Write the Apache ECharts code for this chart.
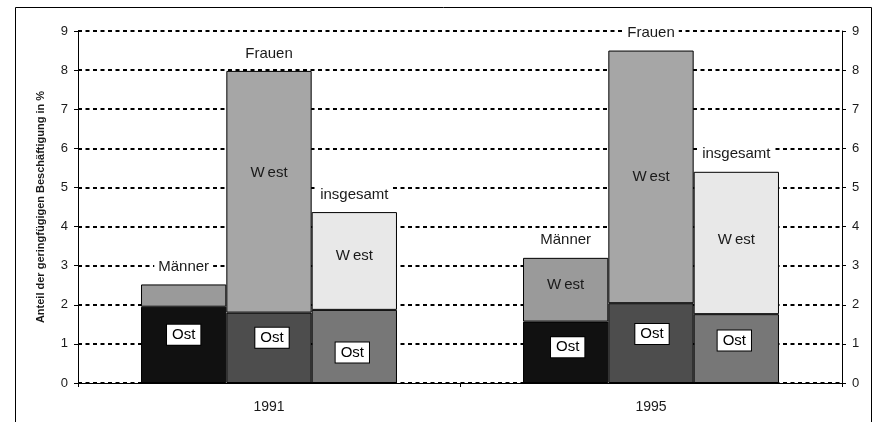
<!DOCTYPE html>
<html>
<head>
<meta charset="utf-8">
<script src="https://cdn.jsdelivr.net/npm/echarts@6/dist/echarts.min.js"></script>
<style>
  html, body { margin: 0; padding: 0; background: #fff; }
  #chart { width: 875px; height: 422px; }
</style>
</head>
<body>
<div id="chart"></div>
<script>
// Daten
const years = ['1991', '1995']
const groups = ['Männer', 'Frauen', 'insgesamt']
const maennerOst = [1.95, 1.57]
const maennerWest = [0.57, 1.63]
const frauenOst = [1.80, 2.04]
const frauenWest = [6.18, 6.46]
const insgesamtOst = [1.87, 1.76]
const insgesamtWest = [2.50, 3.64]
const yTicks = [0, 1, 2, 3, 4, 5, 6, 7, 8, 9]

const FONT = 'Liberation Sans, Arial, sans-serif'
const TXT = '#1a1a1a'

// Farben je Balken (Ost unten, West oben)
const colors = {
  'Männer': ['#111111', '#9a9a9a'],
  'Frauen': ['#4d4d4d', '#a6a6a6'],
  'insgesamt': ['#777777', '#e8e8e8']
}
// Feinjustierung der Beschriftungen [dx, dy] pro Jahr
const ostOffset = {
  'Männer': [[0, -10], [2, -5]],
  'Frauen': [[3, -10], [1, -9]],
  'insgesamt': [[-2, 6], [-2, -8]]
}
const westOffset = {
  'Männer': [[0, 0], [0, -5]],
  'Frauen': [[0, -19], [0, 0]],
  'insgesamt': [[0, -5], [0, -3]]
}

const seriesData = {
  'Männer': [maennerOst, maennerWest],
  'Frauen': [frauenOst, frauenWest],
  'insgesamt': [insgesamtOst, insgesamtWest]
}

const series = []
groups.forEach(g => {
  const [ost, west] = seriesData[g]
  series.push({
    name: g + ' Ost',
    type: 'bar',
    stack: g,
    barGap: '0%',
    barCategoryGap: '33%',
    itemStyle: { color: colors[g][0], borderColor: '#000', borderWidth: 1 },
    label: {
      show: true,
      position: 'inside',
      formatter: 'Ost',
      fontFamily: FONT,
      fontSize: 15,
      color: '#000',
      backgroundColor: '#fff',
      borderColor: '#000',
      borderWidth: 1,
      padding: [3, 5, 2, 5]
    },
    data: ost.map((v, i) => ({ value: v, label: { offset: ostOffset[g][i] } }))
  })
  series.push({
    name: g + ' West',
    type: 'bar',
    stack: g,
    itemStyle: { color: colors[g][1], borderColor: '#000', borderWidth: 1 },
    label: {
      show: true,
      position: 'inside',
      formatter: p => (p.value < 1 ? '' : 'W\u2009est'),
      fontFamily: FONT,
      fontSize: 15,
      color: TXT
    },
    data: west.map((v, i) => ({ value: v, label: { offset: westOffset[g][i] } }))
  })
  // unsichtbarer Balken der Höhe 0 als Träger der Gruppenbeschriftung
  series.push({
    name: g,
    type: 'bar',
    stack: g,
    itemStyle: { color: 'rgba(0,0,0,0)', borderWidth: 0 },
    label: {
      show: true,
      position: 'top',
      distance: 8,
      formatter: g,
      fontFamily: FONT,
      fontSize: 15,
      color: TXT,
      backgroundColor: '#fff',
      padding: [2, 4]
    },
    data: years.map(() => 0)
  })
})

const yAxisBase = {
  type: 'value',
  min: yTicks[0],
  max: yTicks[yTicks.length - 1],
  interval: 1,
  axisLine: { show: true, lineStyle: { color: '#000', width: 1 } },
  axisTick: { show: true, length: 4, lineStyle: { color: '#000' } },
  axisLabel: { fontFamily: FONT, fontSize: 13, color: TXT, margin: 10 }
}

const chart = echarts.init(document.getElementById('chart'), null, { renderer: 'canvas' })
chart.setOption({
  animation: false,
  backgroundColor: '#fff',
  textStyle: { fontFamily: FONT },
  grid: { left: 78, right: 33, top: 31, bottom: 39, containLabel: false },
  graphic: [{
    type: 'rect',
    shape: { x: 15.5, y: 7.5, width: 856, height: 440 },
    style: { fill: null, stroke: '#000', lineWidth: 1 },
    silent: true
  }],
  xAxis: {
    type: 'category',
    data: years,
    axisLine: { lineStyle: { color: '#000', width: 1 } },
    axisTick: { show: true, length: 4, lineStyle: { color: '#000' } },
    axisLabel: { fontFamily: FONT, fontSize: 14, color: TXT, margin: 17 }
  },
  yAxis: [
    Object.assign({}, yAxisBase, {
      position: 'left',
      name: 'Anteil der geringfügigen Beschäftigung in %',
      nameLocation: 'middle',
      nameGap: 32,
      nameRotate: 90,
      nameTextStyle: { fontFamily: FONT, fontSize: 11, fontWeight: 'bold', color: TXT },
      splitLine: { show: true, lineStyle: { color: '#000', width: 2, type: [4, 3.5] } }
    }),
    Object.assign({}, yAxisBase, {
      position: 'right',
      splitLine: { show: false }
    })
  ],
  series: series
})
</script>
</body>
</html>
